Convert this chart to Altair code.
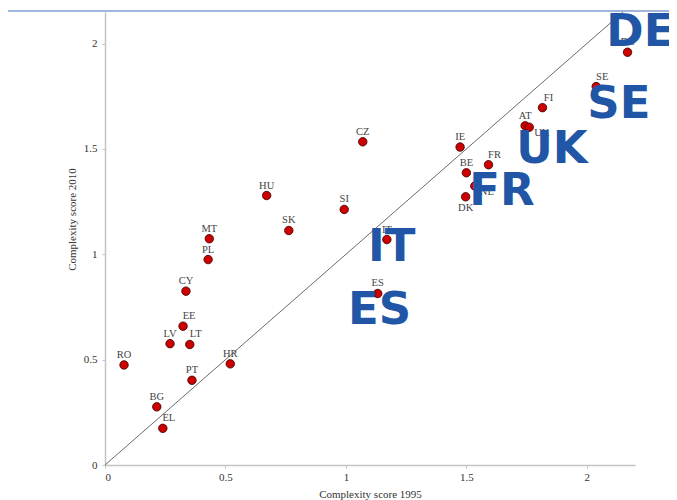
import altair as alt
import pandas as pd

countries = ["RO", "BG", "EL", "LV", "EE", "LT", "CY", "PL", "PT", "HR", "MT", "HU", "SK", "SI",
             "CZ", "IT", "ES", "IE", "BE", "DK", "NL", "FR", "AT", "UK", "FI", "SE", "DE"]
score_1995 = [0.079, 0.215, 0.240, 0.270, 0.324, 0.352, 0.336, 0.428, 0.361, 0.520, 0.433, 0.671, 0.763, 0.993,
              1.070, 1.170, 1.132, 1.474, 1.500, 1.497, 1.535, 1.592, 1.744, 1.761, 1.816, 2.039, 2.169]
score_2010 = [0.475, 0.276, 0.174, 0.576, 0.659, 0.572, 0.825, 0.975, 0.402, 0.480, 1.074, 1.279, 1.113, 1.213,
              1.534, 1.070, 0.814, 1.509, 1.387, 1.273, 1.324, 1.425, 1.610, 1.603, 1.696, 1.796, 1.959]
label_side = ["above", "above", "aboveright", "above", "aboveright", "aboveright", "above", "above", "above",
              "above", "above", "above", "above", "above", "above", "above", "above", "above", "above",
              "below", "right", "aboveright", "above", "right", "aboveright", "aboveright", "above"]

big_names = ["DE", "SE", "UK", "FR", "IT", "ES"]
big_x = [2.081, 2.002, 1.707, 1.512, 1.092, 1.009]
big_y = [1.990, 1.648, 1.435, 1.235, 0.969, 0.670]

diag = [0.0, 2.15]
x_ticks = [0, 0.5, 1, 1.5, 2]
y_ticks = [0, 0.5, 1, 1.5, 2]

df = pd.DataFrame({"country": countries, "x": score_1995, "y": score_2010, "side": label_side})
big = pd.DataFrame({"name": big_names, "x": big_x, "y": big_y})
line_df = pd.DataFrame({"x": diag, "y": diag})

serif = "Liberation Serif"
axis_common = dict(grid=False, domainColor="#c4c4c4", domainWidth=1.5, tickColor="#c4c4c4",
                   tickSize=3, tickWidth=1, labelFont=serif, labelFontSize=11, labelColor="#333333",
                   titleFont=serif, titleFontSize=11, titleFontWeight="normal", titleColor="#333333")

xs = alt.Scale(domain=[0, 2.2], nice=False, zero=False)
ys = alt.Scale(domain=[0, 2.15], nice=False, zero=False)

X = alt.X("x:Q", scale=xs, axis=alt.Axis(values=x_ticks, format=".1~f", title="Complexity score 1995",
                                         labelPadding=3, titleBaseline="middle", titleY=29, **axis_common))
Y = alt.Y("y:Q", scale=ys, axis=alt.Axis(values=y_ticks, format=".1~f", title="Complexity score 2010",
                                         labelPadding=5, titleBaseline="middle", titleX=-33, titleY=207,
                                         titleAngle=270, **axis_common))

border = alt.Chart(line_df).mark_rule(color="#9ab2d8", strokeWidth=1.5).encode(
    x=alt.value(-98), x2=alt.value(572), y=alt.value(-1))

diag_line = alt.Chart(line_df).mark_line(color="#6a6a6a", strokeWidth=1).encode(x=X, y=Y)

pts = alt.Chart(df).mark_point(filled=True, shape="circle", size=72, fill="#cc0000", stroke="#3a0000",
                               strokeWidth=0.8, opacity=1).encode(x=X, y=Y)

def lab(side, **kw):
    return alt.Chart(df).transform_filter(alt.datum.side == side).mark_text(
        font=serif, fontSize=10.5, color="#444444", **kw).encode(x=X, y=Y, text="country:N")

labels = [
    lab("above", dy=-10, baseline="middle", align="center"),
    lab("aboveright", dx=6, dy=-10, baseline="middle", align="center"),
    lab("below", dy=11, baseline="middle", align="center"),
    lab("right", dx=5, dy=6, baseline="middle", align="left"),
]

big_text = alt.Chart(big).mark_text(font="DejaVu Sans", fontWeight="bold", fontSize=45, color="#2156a6",
                                    align="left", baseline="alphabetic").encode(x=X, y=Y, text="name:N")

chart = alt.layer(border, diag_line, pts, *labels, big_text).properties(
    width=530, height=453,
    autosize=alt.AutoSizeParams(type="none"),
    padding={"left": 97, "top": 4, "right": 34, "bottom": 36},
).configure_view(stroke=None)

chart.save("out.html", embed_options={"renderer": "svg", "actions": False})
